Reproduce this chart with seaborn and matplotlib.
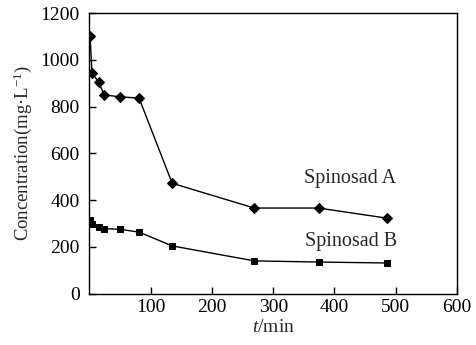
import matplotlib
matplotlib.use("Agg")
import matplotlib.pyplot as plt
import seaborn as sns
import pandas as pd

time_a = [1, 4, 15, 24, 50, 81, 135, 269, 374, 485]
conc_a = [1100, 945, 905, 850, 842, 836, 472, 366, 366, 323]
time_b = [1, 4, 15, 24, 50, 81, 135, 269, 374, 485]
conc_b = [314, 298, 285, 278, 275, 263, 204, 140, 135, 131]
series_names = ["Spinosad A", "Spinosad B"]
x_ticks = [100, 200, 300, 400, 500, 600]
y_ticks = [0, 200, 400, 600, 800, 1000, 1200]

df = pd.concat([
    pd.DataFrame({"t": time_a, "c": conc_a, "s": series_names[0]}),
    pd.DataFrame({"t": time_b, "c": conc_b, "s": series_names[1]}),
])

sns.set_theme(style="ticks")
plt.rcParams["font.family"] = ["Liberation Serif", "DejaVu Serif"]
plt.rcParams["mathtext.fontset"] = "custom"
plt.rcParams["mathtext.it"] = "Liberation Serif:italic"
plt.rcParams["mathtext.rm"] = "Liberation Serif"

fig = plt.figure(figsize=(4.76, 3.45), dpi=100)
ax = fig.add_axes([0.188, 0.149, 0.772, 0.813])

sns.lineplot(data=df, x="t", y="c", hue="s", style="s",
             markers={"Spinosad A": "D", "Spinosad B": "s"}, dashes=False,
             palette={"Spinosad A": "black", "Spinosad B": "black"},
             markersize=5, linewidth=1.0, markeredgecolor="black",
             legend=False, ax=ax)

ax.set_xlim(0, 600)
ax.set_ylim(0, 1200)
ax.set_xticks(x_ticks)
ax.set_yticks(y_ticks)
ax.tick_params(direction="in", length=5, width=1, labelsize=14, colors="black")
ax.tick_params(axis="y", pad=7)
ax.tick_params(axis="x", pad=4)
for sp in ax.spines.values():
    sp.set_linewidth(1.0)
    sp.set_color("black")
    sp.set_visible(True)

ax.set_xlabel("$t$/min", fontsize=14, labelpad=2)
ax.set_ylabel("Concentration(mg·L$^{-1}$)", fontsize=13.5, labelpad=5)

ax.text(425, 492, series_names[0], fontsize=14.5, ha="center", va="center")
ax.text(427, 223, series_names[1], fontsize=14.5, ha="center", va="center")

fig.savefig("out.png", dpi=100)
